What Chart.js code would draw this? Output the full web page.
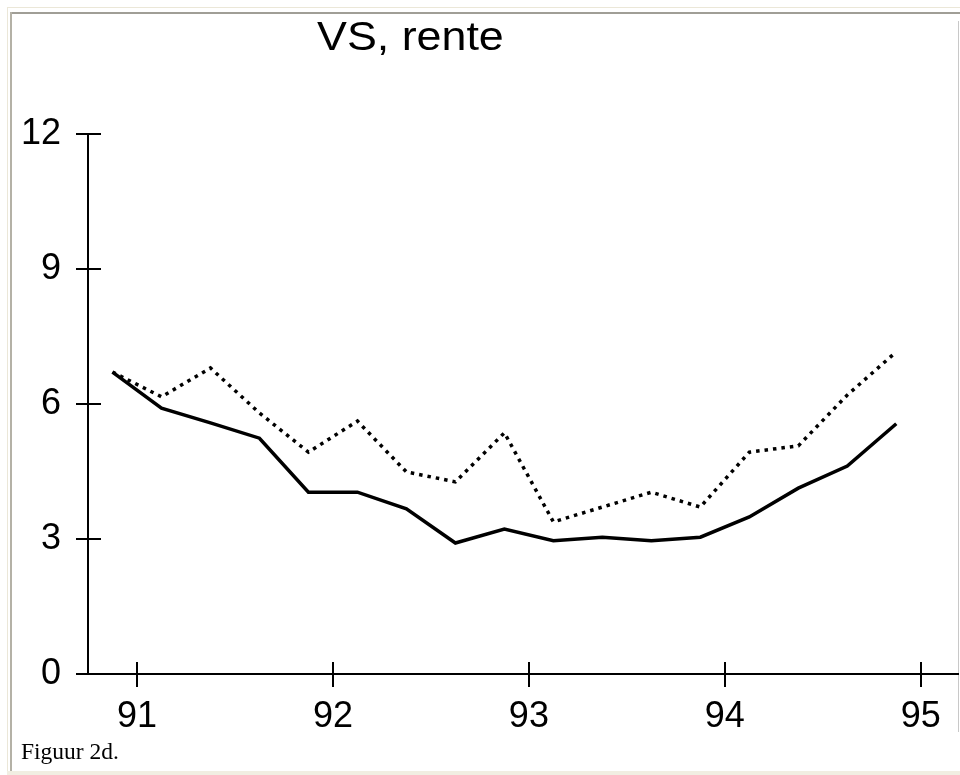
<!DOCTYPE html>
<html>
<head>
<meta charset="utf-8">
<title>VS, rente</title>
<script src="https://cdn.jsdelivr.net/npm/chart.js@4/dist/chart.umd.min.js"></script>
<style>
  html, body { margin: 0; padding: 0; background: #ffffff; }
  body { width: 960px; height: 775px; position: relative; overflow: hidden; }
  .edge { position: absolute; }
  #outerTop { left: 7px; top: 7px; width: 953px; height: 1px; background: #ebe7d8; }
  #outerLeft { left: 7px; top: 7px; width: 1px; height: 768px; background: #ebe7d8; }
  #innerTop { left: 10px; top: 12px; width: 950px; height: 2px; background: #a09e96; }
  #innerLeft { left: 10px; top: 12px; width: 2px; height: 760px; background: #b4b1a6; }
  #innerRight { left: 958px; top: 21px; width: 1px; height: 711px; background: #c8c8c8; }
  #bottomBand { left: 7px; top: 771px; width: 953px; height: 4px; background: #f1eee2; }
  #title {
    position: absolute; left: 317px; top: 16px;
    font: 40px/40px "Liberation Sans", Arial, Helvetica, sans-serif; color: #000;
    white-space: nowrap; transform: scaleX(1.12); transform-origin: 0 0;
  }
  #caption {
    position: absolute; left: 21px; top: 740px;
    font: 23.5px/23.5px "Liberation Serif", "Times New Roman", serif; color: #000;
    white-space: nowrap;
  }
  #chart { position: absolute; left: 0; top: 0; }
</style>
</head>
<body>
<div class="edge" id="outerTop"></div>
<div class="edge" id="outerLeft"></div>
<div class="edge" id="innerTop"></div>
<div class="edge" id="innerLeft"></div>
<div class="edge" id="innerRight"></div>
<div class="edge" id="bottomBand"></div>
<canvas id="chart" width="960" height="740"></canvas>
<div id="title">VS, rente</div>
<div id="caption">Figuur 2d.</div>
<script>
// Quarterly observations, 1990 Q4 through 1994 Q4 (plotted mid-quarter)
const periods = [90.875, 91.125, 91.375, 91.625, 91.875, 92.125, 92.375, 92.625, 92.875,
                 93.125, 93.375, 93.625, 93.875, 94.125, 94.375, 94.625, 94.875];
// Interest rate, solid line
const renteSolid = [6.71, 5.91, 5.58, 5.24, 4.04, 4.04, 3.67, 2.91, 3.22,
                    2.96, 3.04, 2.96, 3.04, 3.49, 4.13, 4.62, 5.56];
// Interest rate, dotted line
const renteDotted = [6.71, 6.16, 6.80, 5.80, 4.93, 5.62, 4.49, 4.27, 5.36,
                     3.38, 3.71, 4.04, 3.71, 4.93, 5.07, 6.20, 7.16];
// Axis ticks
const xTicks = [91, 92, 93, 94, 95];
const yTicks = [0, 3, 6, 9, 12];

const toPoints = (xs, ys) => xs.map((x, i) => ({ x: x, y: ys[i] }));

// Tick marks cross the axis: Chart.js draws the outer half, this draws the inner half
const innerTicks = {
  id: 'innerTicks',
  afterDraw(chart) {
    const ctx = chart.ctx;
    const xs = chart.scales.x, ys = chart.scales.y;
    const area = chart.chartArea;
    ctx.save();
    ctx.strokeStyle = '#000';
    ctx.lineWidth = 2;
    ctx.beginPath();
    ys.ticks.forEach(t => {
      const py = Math.round(ys.getPixelForValue(t.value));
      ctx.moveTo(area.left, py);
      ctx.lineTo(area.left + 13, py);
    });
    xs.ticks.forEach(t => {
      const px = Math.round(xs.getPixelForValue(t.value));
      ctx.moveTo(px, area.bottom);
      ctx.lineTo(px, area.bottom - 12);
    });
    ctx.stroke();
    ctx.restore();
  }
};

Chart.defaults.font.family = '"Liberation Sans", Arial, Helvetica, sans-serif';
Chart.defaults.color = '#000';

new Chart(document.getElementById('chart'), {
  type: 'line',
  data: {
    datasets: [
      {
        label: 'Rente',
        data: toPoints(periods, renteSolid),
        borderColor: '#000',
        borderWidth: 3.5,
        pointRadius: 0,
        tension: 0,
        fill: false
      },
      {
        label: 'Rente (gestippeld)',
        data: toPoints(periods, renteDotted),
        borderColor: '#000',
        borderWidth: 3.5,
        borderDash: [3.5, 5],
        pointRadius: 0,
        tension: 0,
        fill: false
      }
    ]
  },
  options: {
    responsive: false,
    animation: false,
    events: [],
    layout: { padding: { top: 134, right: 2, left: 0, bottom: 0 } },
    plugins: { legend: { display: false }, tooltip: { enabled: false }, title: { display: false } },
    scales: {
      x: {
        type: 'linear',
        min: 90.75,
        max: 95.19,
        afterBuildTicks: s => { s.ticks = xTicks.map(v => ({ value: v })); },
        afterFit: s => { s.height = 66; },
        ticks: { font: { size: 36 }, padding: 8, maxRotation: 0, autoSkip: false,
                 callback: v => String(v) },
        grid: { drawOnChartArea: false, drawTicks: true, tickLength: 13, color: '#000', lineWidth: 2 },
        border: { display: true, color: '#000', width: 2 }
      },
      y: {
        type: 'linear',
        min: 0,
        max: 12,
        afterBuildTicks: s => { s.ticks = yTicks.map(v => ({ value: v })); },
        afterFit: s => { s.width = 88; },
        ticks: { font: { size: 36 }, padding: 15, callback: v => String(v) },
        grid: { drawOnChartArea: false, drawTicks: true, tickLength: 12, color: '#000', lineWidth: 2 },
        border: { display: true, color: '#000', width: 2 }
      }
    }
  },
  plugins: [innerTicks]
});
</script>
</body>
</html>
